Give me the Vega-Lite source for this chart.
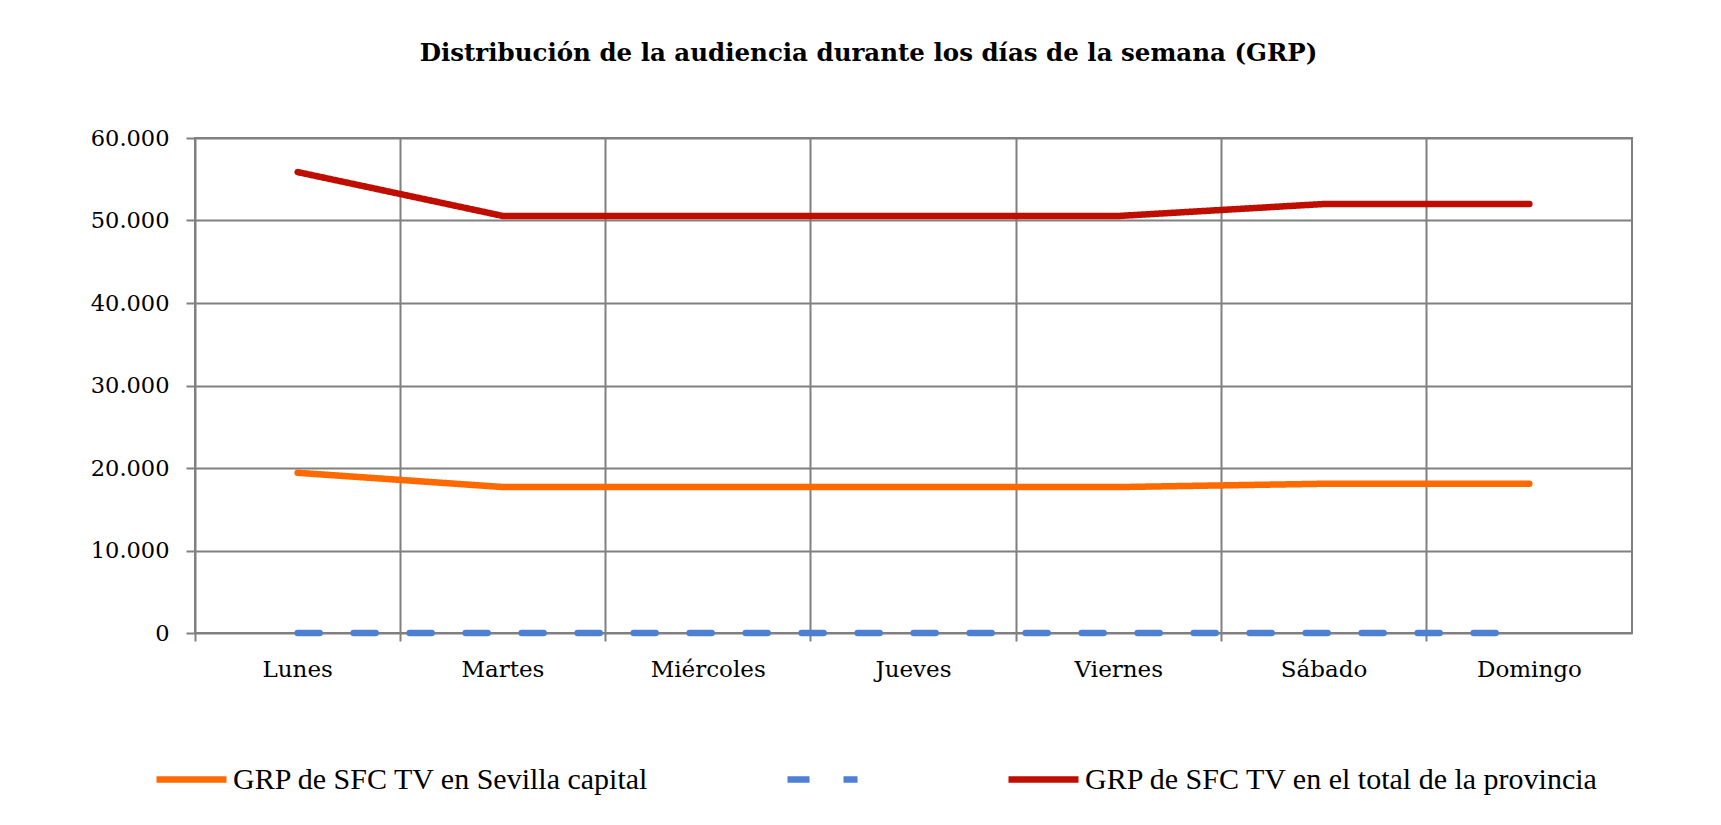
{
  "$schema": "https://vega.github.io/schema/vega-lite/v6.json",
  "width": 1437,
  "height": 495,
  "autosize": {"type": "none"},
  "padding": {"left": 195, "top": 138, "right": 89, "bottom": 192},
  "background": "white",
  "title": {
    "text": "Distribución de la audiencia durante los días de la semana (GRP)",
    "font": "DejaVu Serif",
    "fontSize": 24.5,
    "fontWeight": "bold",
    "color": "black",
    "anchor": "middle",
    "dx": -45,
    "offset": 61
  },
  "config": {
    "view": {"stroke": "#808080", "strokeWidth": 2},
    "axis": {
      "gridColor": "#808080",
      "gridWidth": 2,
      "gridOpacity": 1,
      "tickColor": "#808080",
      "tickWidth": 2,
      "domain": false,
      "labelFont": "DejaVu Serif",
      "labelColor": "black",
      "title": null
    }
  },
  "data": {
    "values": [
      {"dia": "Lunes", "serie": "GRP de SFC TV en Sevilla capital", "grp": 19420},
      {"dia": "Martes", "serie": "GRP de SFC TV en Sevilla capital", "grp": 17690},
      {"dia": "Miércoles", "serie": "GRP de SFC TV en Sevilla capital", "grp": 17690},
      {"dia": "Jueves", "serie": "GRP de SFC TV en Sevilla capital", "grp": 17690},
      {"dia": "Viernes", "serie": "GRP de SFC TV en Sevilla capital", "grp": 17690},
      {"dia": "Sábado", "serie": "GRP de SFC TV en Sevilla capital", "grp": 18090},
      {"dia": "Domingo", "serie": "GRP de SFC TV en Sevilla capital", "grp": 18090},
      {"dia": "Lunes", "serie": "Serie 2", "grp": 0},
      {"dia": "Martes", "serie": "Serie 2", "grp": 0},
      {"dia": "Miércoles", "serie": "Serie 2", "grp": 0},
      {"dia": "Jueves", "serie": "Serie 2", "grp": 0},
      {"dia": "Viernes", "serie": "Serie 2", "grp": 0},
      {"dia": "Sábado", "serie": "Serie 2", "grp": 0},
      {"dia": "Domingo", "serie": "Serie 2", "grp": 0},
      {"dia": "Lunes", "serie": "GRP de SFC TV en el total de la provincia", "grp": 55870},
      {"dia": "Martes", "serie": "GRP de SFC TV en el total de la provincia", "grp": 50550},
      {"dia": "Miércoles", "serie": "GRP de SFC TV en el total de la provincia", "grp": 50550},
      {"dia": "Jueves", "serie": "GRP de SFC TV en el total de la provincia", "grp": 50550},
      {"dia": "Viernes", "serie": "GRP de SFC TV en el total de la provincia", "grp": 50550},
      {"dia": "Sábado", "serie": "GRP de SFC TV en el total de la provincia", "grp": 52000},
      {"dia": "Domingo", "serie": "GRP de SFC TV en el total de la provincia", "grp": 52000}
    ]
  },
  "mark": {"type": "line", "strokeWidth": 6.5, "strokeCap": "round", "strokeJoin": "round", "interpolate": "linear"},
  "encoding": {
    "x": {
      "field": "dia",
      "type": "nominal",
      "sort": ["Lunes", "Martes", "Miércoles", "Jueves", "Viernes", "Sábado", "Domingo"],
      "scale": {"type": "band", "paddingInner": 0, "paddingOuter": 0},
      "axis": {
        "bandPosition": 0,
        "grid": true,
        "ticks": true,
        "tickSize": 8,
        "labelAngle": 0,
        "labelFontSize": 23,
        "labelPadding": 17,
        "labelAlign": "center"
      }
    },
    "y": {
      "field": "grp",
      "type": "quantitative",
      "scale": {"domain": [0, 60000], "nice": false},
      "axis": {
        "values": [0, 10000, 20000, 30000, 40000, 50000, 60000],
        "grid": true,
        "ticks": true,
        "tickSize": 9,
        "labelFontSize": 22.5,
        "labelPadding": 17,
        "labelExpr": "replace(format(datum.value, ','), ',', '.')"
      }
    },
    "color": {
      "field": "serie",
      "type": "nominal",
      "scale": {
        "domain": ["GRP de SFC TV en Sevilla capital", "Serie 2", "GRP de SFC TV en el total de la provincia"],
        "range": ["#FF6A00", "#4D7FD2", "#BF0D00"]
      },
      "legend": {
        "orient": "none",
        "legendX": -42,
        "legendY": 603,
        "direction": "horizontal",
        "columns": 3,
        "gridAlign": "none",
        "columnPadding": 124,
        "title": null,
        "symbolType": "stroke",
        "symbolSize": 4900,
        "symbolStrokeWidth": 6.5,
        "labelFont": "Liberation Serif",
        "labelFontSize": 30,
        "labelColor": "black",
        "labelOffset": 3,
        "labelLimit": 700,
        "labelExpr": "datum.label == 'Serie 2' ? '' : datum.label"
      }
    },
    "strokeDash": {
      "field": "serie",
      "type": "nominal",
      "scale": {
        "domain": ["GRP de SFC TV en Sevilla capital", "Serie 2", "GRP de SFC TV en el total de la provincia"],
        "range": [[1, 0], [22, 34], [1, 0]]
      },
      "legend": null
    }
  }
}
